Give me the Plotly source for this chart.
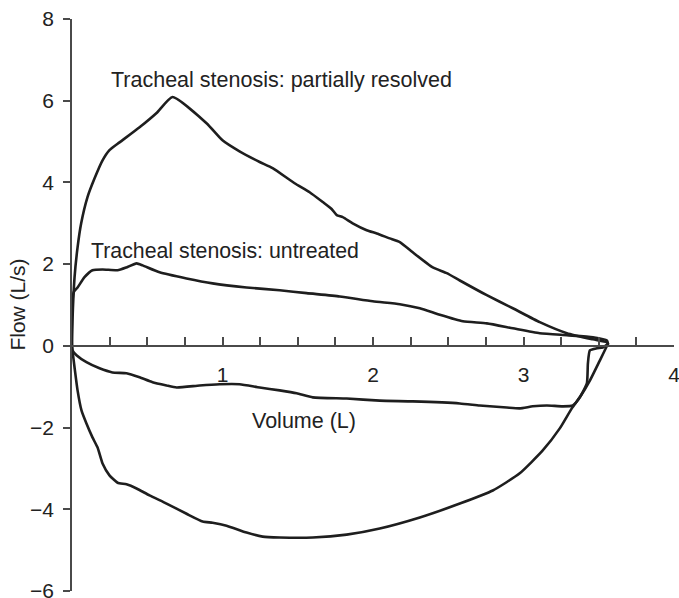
import plotly.graph_objects as go

# Partially resolved: expiratory (upper) limb, then inspiratory (lower) limb
pr_exp_vol = [0, 0.003, 0.017, 0.037, 0.061, 0.103, 0.15, 0.203, 0.249, 0.316, 0.449, 0.562, 0.668,
              0.894, 1.0, 1.113, 1.247, 1.333, 1.479, 1.579, 1.666, 1.725, 1.759, 1.799, 1.865, 1.958,
              2.025, 2.111, 2.178, 2.264, 2.397, 2.490, 2.577, 2.756, 2.929, 3.108, 3.288, 3.461, 3.554, 3.561]
pr_exp_flow = [0, 0.6, 1.68, 2.41, 3.0, 3.64, 4.1, 4.54, 4.79, 4.98, 5.35, 5.7, 6.09,
               5.45, 5.03, 4.76, 4.5, 4.35, 3.98, 3.76, 3.52, 3.35, 3.2, 3.15, 3.0, 2.83,
               2.75, 2.63, 2.54, 2.29, 1.92, 1.78, 1.60, 1.24, 0.92, 0.58, 0.31, 0.16, 0.09, 0.05]
pr_insp_vol = [3.561, 3.507, 3.441, 3.374, 3.321, 3.241, 3.128, 2.975, 2.796, 2.577, 2.311, 2.045,
               1.825, 1.6, 1.38, 1.267, 1.160, 1.027, 0.934, 0.868, 0.761, 0.628, 0.515, 0.429,
               0.362, 0.303, 0.249, 0.203, 0.17, 0.136, 0.096, 0.063, 0.037, 0.017, 0.003, 0]
pr_insp_flow = [0.05, -0.36, -0.85, -1.26, -1.53, -2.02, -2.56, -3.12, -3.54, -3.86, -4.20, -4.47,
                -4.62, -4.69, -4.69, -4.67, -4.57, -4.40, -4.33, -4.30, -4.11, -3.86, -3.66, -3.49,
                -3.39, -3.35, -3.17, -2.88, -2.49, -2.24, -1.90, -1.58, -1.09, -0.53, -0.11, 0]

# Untreated
un_exp_vol = [0, 0.0, 0.003, 0.012, 0.037, 0.083, 0.136, 0.203, 0.303, 0.362, 0.429, 0.469, 0.582,
              0.761, 0.934, 1.160, 1.38, 1.559, 1.779, 1.998, 2.178, 2.311, 2.444, 2.597, 2.756,
              2.929, 3.108, 3.288, 3.461, 3.554, 3.561]
un_exp_flow = [0, 0.6, 1.1, 1.32, 1.43, 1.68, 1.85, 1.87, 1.85, 1.92, 2.02, 1.97, 1.80,
               1.65, 1.53, 1.43, 1.36, 1.29, 1.21, 1.09, 1.02, 0.92, 0.76, 0.60, 0.55,
               0.43, 0.31, 0.26, 0.21, 0.13, 0.05]
un_insp_vol = [3.561, 3.527, 3.487, 3.441, 3.428, 3.421, 3.374, 3.328, 3.261, 3.155, 3.062, 2.975,
               2.889, 2.709, 2.577, 2.264, 2.045, 1.825, 1.6, 1.493, 1.38, 1.247, 1.113, 0.981,
               0.848, 0.695, 0.628, 0.535, 0.449, 0.362, 0.269, 0.183, 0.096, 0.03, 0.003, 0]
un_insp_flow = [0.05, -0.04, -0.06, -0.11, -0.43, -0.92, -1.26, -1.46, -1.48, -1.46, -1.48, -1.53,
                -1.51, -1.46, -1.41, -1.36, -1.34, -1.29, -1.26, -1.16, -1.09, -1.02, -0.94, -0.94,
                -0.97, -1.02, -0.97, -0.89, -0.77, -0.67, -0.65, -0.55, -0.40, -0.23, -0.11, 0]

x_ticks = [1, 2, 3, 4]
y_ticks = [-6, -4, -2, 0, 2, 4, 6, 8]

LINE = "#1e1e1e"
AXIS = "#4a4a4a"
TXT = "#222222"
FONT = "Liberation Sans, Arial, Helvetica, sans-serif"

fig = go.Figure()
for vx, fy in [(pr_exp_vol + pr_insp_vol, pr_exp_flow + pr_insp_flow),
               (un_exp_vol + un_insp_vol, un_exp_flow + un_insp_flow)]:
    fig.add_trace(go.Scatter(x=vx, y=fy, mode="lines",
                             line=dict(color=LINE, width=2.6, shape="spline", smoothing=0.5),
                             hoverinfo="skip", showlegend=False, cliponaxis=False))

fig.update_layout(
    width=679, height=598,
    margin=dict(l=72, r=5, t=19, b=7, autoexpand=False),
    paper_bgcolor="white", plot_bgcolor="white",
    font=dict(family=FONT, size=21, color=TXT),
    showlegend=False,
    xaxis=dict(range=[0, 4], anchor="free", position=6/14, automargin=False,
               showline=True, linecolor=AXIS, linewidth=1.5,
               showgrid=False, zeroline=False,
               tickmode="array", tickvals=x_ticks,
               ticks="inside", ticklen=8, tickwidth=1.5, tickcolor=AXIS,
               ticklabelstandoff=10, ticklabeloverflow="allow",
               minor=dict(dtick=0.25, tick0=0, ticks="inside", ticklen=8,
                          tickwidth=1.5, tickcolor=AXIS, showgrid=False),
               tickfont=dict(size=21, color=TXT)),
    yaxis=dict(range=[-6, 8], showline=True, linecolor=AXIS, linewidth=1.5, automargin=False,
               showgrid=False, zeroline=False,
               tickmode="array", tickvals=y_ticks,
               ticks="outside", ticklen=7, tickwidth=1.5, tickcolor=AXIS,
               ticklabelstandoff=5, ticklabeloverflow="allow",
               tickfont=dict(size=21, color=TXT)),
)

fig.add_annotation(x=0.245, y=6.5, xref="x", yref="y", text="Tracheal stenosis: partially resolved",
                   showarrow=False, xanchor="left", yanchor="middle", font=dict(size=21.5, color=TXT))
fig.add_annotation(x=0.11, y=2.33, xref="x", yref="y", text="Tracheal stenosis: untreated",
                   showarrow=False, xanchor="left", yanchor="middle", font=dict(size=21.3, color=TXT))
fig.add_annotation(x=1.54, y=-1.85, xref="x", yref="y", text="Volume (L)",
                   showarrow=False, xanchor="center", yanchor="middle", font=dict(size=21.5, color=TXT))
fig.add_annotation(x=-0.092, y=0.5, xref="paper", yref="paper", text="Flow (L/s)", textangle=-90,
                   showarrow=False, xanchor="center", yanchor="middle", font=dict(size=21, color=TXT))

fig.write_html("out.html", config={"displayModeBar": False},
               post_script="document.body.style.margin='0';document.body.style.overflow='hidden';")
